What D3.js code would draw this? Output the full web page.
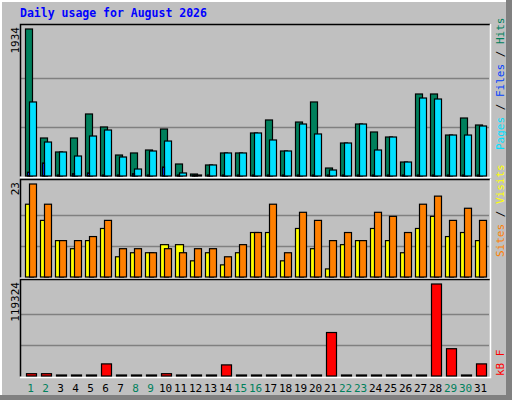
<!DOCTYPE html>
<html>
<head>
<meta charset="utf-8">
<script src="https://cdn.jsdelivr.net/npm/d3@7"></script>
<style>
  body { margin: 0; }
  svg text { font-family: "DejaVu Sans Mono", monospace; }
</style>
</head>
<body>
<svg id="chart" width="512" height="400"></svg>
<script>
var days = d3.range(1, 32);
var weekend = [1, 2, 8, 9, 15, 16, 22, 23, 29, 30];

var hits  = [1934, 500, 316, 500, 816, 645, 276, 303, 342, 618, 158, 26, 145, 303, 303, 566, 737, 329, 710, 974, 105, 434, 684, 579, 513, 184, 1079, 1079, 539, 763, 671];
var files = [974, 447, 316, 263, 526, 605, 250, 92, 329, 460, 40, 13, 145, 303, 303, 566, 474, 329, 684, 553, 79, 434, 684, 342, 513, 184, 1026, 1013, 539, 539, 658];
var pages = [50, 171, 8, 30, 40, 8, 8, 30, 8, 118, 8, 13, 8, 8, 8, 8, 8, 8, 8, 8, 8, 8, 8, 8, 8, 8, 8, 8, 8, 8, 8];
var visits = [23, 18, 9, 9, 10, 14, 7, 7, 6, 7, 6, 7, 7, 5, 8, 11, 18, 6, 16, 14, 9, 11, 9, 16, 15, 11, 18, 20, 14, 17, 14];
var sites  = [18, 14, 9, 7, 9, 12, 5, 6, 6, 8, 8, 4, 6, 3, 6, 11, 11, 4, 12, 7, 2, 8, 9, 12, 9, 6, 12, 15, 10, 11, 9];
var kbytes = [3000, 3000, 0, 0, 0, 15700, 0, 0, 0, 3000, 0, 0, 0, 14400, 0, 0, 0, 0, 0, 0, 56400, 0, 0, 0, 0, 0, 0, 119324, 35400, 0, 15700];

var svg = d3.select("#chart");

// outer raised frame
svg.append("rect").attr("width", 512).attr("height", 400).attr("fill", "#808080");
svg.append("rect").attr("width", 506).attr("height", 395).attr("fill", "#ffffff");
svg.append("rect").attr("x", 2).attr("y", 2).attr("width", 504).attr("height", 393).attr("fill", "#c0c0c0");

svg.append("text").attr("x", 20).attr("y", 17)
    .attr("font-size", 11.5).attr("font-weight", "bold").attr("fill", "#0000ff")
    .text("Daily usage for August 2026");

var x = d3.scaleBand().domain(days).range([21, 486]);
var step = x.step();

function panel(top, bottom, max) {
    svg.append("rect").attr("x", 20).attr("y", top).attr("width", 470).attr("height", bottom - top)
        .attr("fill", "#c0c0c0");
    var y = d3.scaleLinear().domain([0, max]).range([bottom - 1.5, top + 4.5]);
    [max / 3, max * 2 / 3].forEach(function (v) {
        svg.append("line").attr("x1", 21).attr("x2", 489)
            .attr("y1", Math.round(y(v)) + 0.5).attr("y2", Math.round(y(v)) + 0.5)
            .attr("stroke", "#808080").attr("stroke-width", 1.5);
    });
    svg.append("path").attr("d", "M20.5," + (bottom - 0.5) + "V" + (top + 0.5) + "H490")
        .attr("fill", "none").attr("stroke", "#000").attr("stroke-width", 1.5);
    svg.append("path").attr("d", "M490.5," + top + "V" + (bottom + 0.5) + "H20")
        .attr("fill", "none").attr("stroke", "#fff").attr("stroke-width", 1.5);
    svg.append("text").attr("transform", "translate(19," + (top + 3) + ") rotate(-90)")
        .attr("text-anchor", "end").attr("font-family", "DejaVu Sans").attr("font-size", 11)
        .attr("fill", "#000").text(max);
    return y;
}

function bars(y, data, dx, w, color) {
    svg.append("g").selectAll("rect").data(data).enter().append("rect")
        .attr("x", function (d, i) { return x(days[i]) + dx + 0.5; })
        .attr("y", function (d) { return Math.min(y(d), y(0) - 1) + 0.5; })
        .attr("width", w)
        .attr("height", function (d) { return Math.max(y(0) - y(d), 1); })
        .attr("fill", color).attr("stroke", "#000").attr("stroke-width", 1.2);
}

function sideLabel(ybase, parts) {
    var t = svg.append("text").attr("transform", "translate(504," + ybase + ") rotate(-90)")
        .attr("font-size", 11);
    parts.forEach(function (p) { t.append("tspan").attr("fill", p[1]).text(p[0]); });
}

var y1 = panel(24, 177, 1934);
bars(y1, hits, 4, 7, "#00805c");
bars(y1, files, 8, 7, "#00e0ff");
bars(y1, pages, 6, 2, "#0040ff");
sideLabel(150, [["Pages", "#00e0ff"], [" / ", "#000"], ["Files", "#0040ff"], [" / ", "#000"], ["Hits", "#00805c"]]);

var y2 = panel(179, 278, 23);
bars(y2, sites, 4, 8, "#ffff00");
bars(y2, visits, 8, 7, "#ff8000");
sideLabel(257, [["Sites", "#ff8000"], [" / ", "#000"], ["Visits", "#ffff00"]]);

var y3 = panel(279, 377, 119324);
bars(y3, kbytes, 5, 10, "#ff0000");
sideLabel(376, [["kB F", "#ff0000"]]);

svg.append("g").selectAll("text").data(days).enter().append("text")
    .attr("x", function (d) { return x(d) + step / 2 + 2; })
    .attr("y", 392)
    .attr("text-anchor", "middle").attr("font-family", "DejaVu Sans").attr("font-size", 11)
    .attr("fill", function (d) { return weekend.indexOf(d) >= 0 ? "#00805c" : "#000"; })
    .text(function (d) { return d; });
</script>
</body>
</html>
